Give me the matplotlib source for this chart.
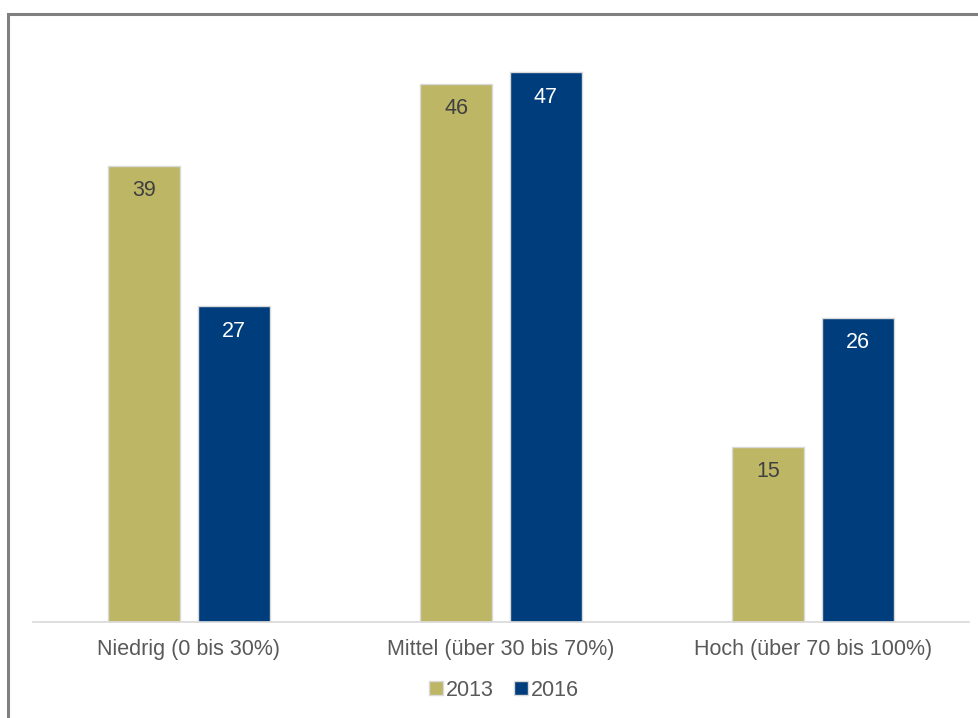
import matplotlib
matplotlib.use("Agg")
import matplotlib.pyplot as plt
import numpy as np
from matplotlib.patches import Rectangle

categories = ["Niedrig (0 bis 30%)", "Mittel (über 30 bis 70%)", "Hoch (über 70 bis 100%)"]
series_names = ["2013", "2016"]
values_2013 = [39, 46, 15]
values_2016 = [27, 47, 26]

c2013 = "#BCB665"
c2016 = "#003D7C"
text_col = "#595959"
fs = 15.5

plt.rcParams['font.family'] = ['Liberation Sans', 'DejaVu Sans']

fig = plt.figure(figsize=(9.79, 7.18), dpi=100)
ax = fig.add_axes([33/979, 1-622/718, 936/979, 585/718])

x = np.arange(len(categories))
w = 0.23
off = 0.144
b1 = ax.bar(x - off, values_2013, w, color=c2013, edgecolor="#D9D9D9", linewidth=1, label=series_names[0])
b2 = ax.bar(x + off, values_2016, w, color=c2016, edgecolor="#D9D9D9", linewidth=1, label=series_names[1])

for rect, v in zip(b1, values_2013):
    ax.annotate(str(v), (rect.get_x() + rect.get_width()/2, v), xytext=(0, -25),
                textcoords="offset pixels",
                ha="center", va="center", fontsize=fs, color="#404040")
for rect, v in zip(b2, values_2016):
    ax.annotate(str(v), (rect.get_x() + rect.get_width()/2, v), xytext=(0, -25),
                textcoords="offset pixels",
                ha="center", va="center", fontsize=fs, color="white")

ax.set_xlim(-0.5, 2.5)
ax.set_ylim(0, 50)
ax.set_yticks([])
ax.set_xticks(x)
ax.set_xticklabels(categories, fontsize=fs, color=text_col)
ax.tick_params(axis="x", length=0, pad=12)
for s in ["top", "right", "left"]:
    ax.spines[s].set_visible(False)
ax.spines["bottom"].set_color("#D9D9D9")
ax.spines["bottom"].set_linewidth(1.2)

leg = fig.legend(handles=[b1, b2], labels=series_names, loc="center",
                 bbox_to_anchor=(504/979, 1-690/718), ncol=2, frameon=False,
                 fontsize=fs, handlelength=0.65, handleheight=0.65,
                 handletextpad=0.15, columnspacing=0.9)
for t in leg.get_texts():
    t.set_color(text_col)

# outer frame
fig.patches.append(Rectangle((8/979, -0.1), 1.2, 1 - 14/718 + 0.1, transform=fig.transFigure,
                             fill=False, edgecolor="#808080", linewidth=2.2))

fig.savefig("out.png", dpi=100)
